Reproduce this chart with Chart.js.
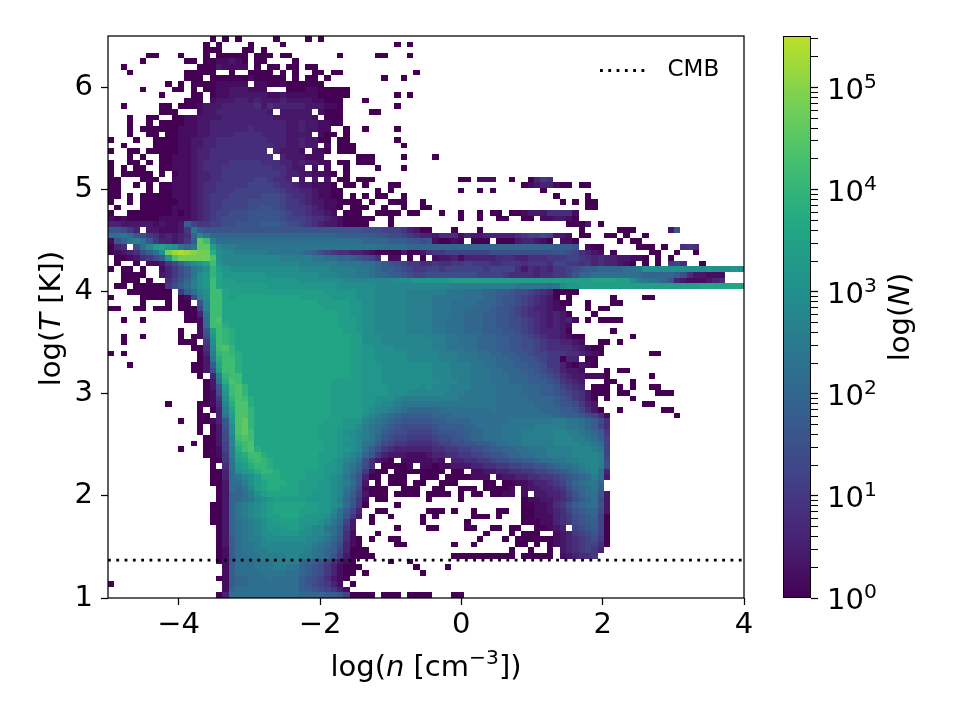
<!DOCTYPE html>
<html>
<head>
<meta charset="utf-8">
<title>Density-temperature histogram</title>
<script src="https://cdn.jsdelivr.net/npm/chart.js@4"></script>
<style>
  html, body { margin: 0; background: #fff; }
  canvas { position: absolute; left: 0; top: 0; }
</style>
</head>
<body>
<canvas id="phase" width="960" height="720"></canvas>
<canvas id="colorbar" width="960" height="720"></canvas>
<script>
// histogram counts, top row first, left column first
// one base 36 digit per bin: digit d means N = 10^(d / 5), '.' is an empty bin
var countRows = [
'.......... ......0.0. 0.....0... .0.0',
'.......... .....0.0.. ..0....0.. .......... .....0.0',
'.......... .....000.. .00.0',
'......00.. .0...0.000 00.000.00. ......0... ..00...0',
'.....0.... ..00.00112 10.00....0',
'..0....... ....000211 11.0.00.00 .00',
'...0...... ..00000..0 ..0000.0.0 ..00.00... ........0',
'.......... ..000.0000 00100000.0 .00.0..... ...0..0',
'.........0 .0.0000111 11.1100100 0000',
'.....0.... 00.0.00112 22111...00 01100000',
'........0. ...00.0112 2222211211 11100000.. .....0.0',
'.......... ..000.1222 3323222322 2211000... 0',
'..0.....00 .000122233 3334243333 3222110... .....0',
'........00 0...122333 333332.222 22.1000... .00',
'...0..00.. 0011222233 3333332222 221.000',
'...0..0.00 0011223333 3333333322 3221100',
'...0.00000 0111223333 3343333322 32211..0.. 0....0',
'...0..00.0 0111223333 4444333322 22.100.0',
'0...0..000 0112233444 4444433322 32200.00.. .....0',
'..0....000 0112233444 4444443322 322.1.000. ......0',
'0..00.0000 0112334444 44444.3222 1.110.000',
'...0.0..00 1112334444 444444.322 2111.....0 00....0... .0',
'0..00.0.00 1112344445 5555444332 32211.00.0 00',
'0.0.00..00 1112344455 5555554432 2.1.1..0.. ..0...0',
'0.00000.0. 0112334455 5555555433 221110.0',
'00...000.. 1112334455 555665443. 2.2.2.00.0 00........ .....00.11 1..0..0354',
'00..0.0.00 1112344555 5566665443 221110.00. 0...00.... .......... .....01233 100.00',
'00....0.00 1112344555 6666666544 3321100... ..0.0..... .....0..0. 0.......0.',
'00.0.00000 1112345556 6666777654 4321100.0. 0.00..0... .......... .......... 0....0',
'0..0.00000 0112345566 6677777655 4322110000 .0..000..0 .......... .......... .0.0.00',
'.0...00000 1112345566 6677887655 5432110.00 0..0..0..0 0......... .......... .....00',
'0..0000000 1012345667 7788888765 543321.000 ..0000.00. ..0..0..0. 00.0012224 4441',
'1010000011 1112345677 7788888766 6544321000 00..0..... .....0..0. .00..00.11 2210',
'3322222121 1296556677 8888999877 6543221000 0...0..... .......... .......... ..0002.0',
'88753.2211 125c988888 8888888888 8888888888 7776665320 0...0...0. .......... ....0..... 000.....28',
'bbcb875423 234aecaaaa aaaaaaaaaa aaaaaa9999 9988776543 3244413223 3333456676 221.00..00 .0..0',
'18acdb8533 2359nldbbb bbbbbbbbbb bbbbbbbbbb aaaa999887 810010.000 .000233210 .110...... 0.00',
'034.7behig fcacnnhedd cccccccccc cccccccccc ccbbbbbaaa aaaaaaaaaa aaaaaaaaaa 9998.100.. ...000.0.. 454',
'0123479bfo qrqpoojfee dddddccccc ba97654433 2100002002 4556666666 7777777777 88764321.0 .....00..0 ..0',
'.00124579g mooooomfee eeeeeeeddd ddccbbaa98 764.11.0.0 .122313333 3444334445 5566543433 22110.0.0',
'.0..0.1125 7adfgilgee eeeeeeeeee ddddddcccc bba9876554 4544556555 4455545554 6655453433 210.0.0.56 4..0',
'0.00.0..13 579cdfkhgf ffffffffff eeeeeddddc cba9987655 6656666665 6666424343 5567899aaa abbcffffff ffffgfffgf',
'..0000..23 579cfgkigg gggggfffff fffeeedddc cbaa998766 7777777766 6654444344 5568aabbbb bbbbaaaaa9 7422111...',
'..000.0..4 68adfglihh gggggggggg fffffffeee eeeeefffgg gggghhhhhh hhhhhhhhhh hhhhhhiiii hhfdccba83 2111234...',
'.00.000005 79bdfglihh hhhhhggggg ggggggffff ffeeeeeeee eeeedddddd ddddcccccb cfgghhhhhh hhhhhhhhhh hhhiiiiiii',
'...0000000 .59befllih hhhhhhhhhh hhhhgggggf ffeeeeeddd dddcccbbba a998776543 0000',
'0....00000 .017dfllih iiiiiiiiii hhhhhggggf ffeeeeeddd dcccccbbba a988765432 0.0......0 ....00',
'.....0...0 .00.8ellii iiiiiiiiii iiihhhhhgg ffeeeeeddd dcccbbbbaa a988765432 100..0...0 0',
'00..00.000 .0006ellii iiiiiiiiii iiiihhhhgg ffeeeeeddd dcccbbbaaa 9887654332 11...0.00.',
'.......... ..003cllii iiiiiiiiii iiiiiihhgg ffeeeeeddd dcccbbaaa9 9887654432 320...0',
'..0..0.... ..001blmii iiiiiiiiii iiiiiihhhg ffeeeeeddd dccbbbaaa9 9887765432 3231.0.000 0',
'.......... ....1bllji iiiiiiiiii iiiiiihhhg ffeeeeeddd dccbbbaaa9 9887765432 321',
'.......... .0..18hlkj iiiiiiiiii iiiiiiihhg ffeeeeeddd dccbbbaaa9 9988765433 320......0',
'..0..0.... .0.017glkj iiiiiiiiii iiiiiiiihh fffeeeeeee dddccbbbaa a998876543 32100..... ..0',
'..0....... .000.5flkj iiiiiiiiii iiiiiiiihh fffeeeeeee eddccbbbaa a998877654 43321..00. 0',
'.......... ...004elmk iiiiiiiiii iiiiiiiihh ggfffeeeee eddcccbbaa a998877654 44432100',
'0.0....... ....03dklk jiiiiiiiii iiiiiiiihh ggfffffeee eedddcccbb aa99887665 55443210.. .....00',
'.......... ....02cjll jiiiiiiiii iiiiiiiihh ggfffffeee eedddcccbb baa9988765 5033.00',
'...0...... ...0029ill jiiiiiiiii iiiiiiiihh gggfffffff feeedddccb baaa998875 5310210',
'.......... ...0027hll jiiiiiiiii iiiiiiiihh gggfffffff feeedddccc bbaaa99876 53221...0. 00',
'.......... ....0.3dkl liiiiiiiii iiiiiiiihh gggfffffff feeedddccc bbbaaa9987 643221110. .....0',
'.......... .....02cjm liiiiiiiii iiiiihhhhh gggfffffff ffeeeddccc bbbaaa9998 75432...00 ..0',
'.......... .....028hl mkiiiiiiii iiiiihhhhh ggggfffffe feeedddccc cbbbbaaa99 86543.000. 0.0..00',
'.......... .....017gl mkiiiiiiii iiiiihhhhh ggggfffeee eeedddcccc cbbbbaaa99 876542000. 00....000',
'.......... .....015fk mljiiiiiii iiiiihhhhh ggfffedddd dddddccccc cbbbbbaaaa 9875420.0. ..0',
'.........0 ....0014ej mmjiiiiiii iiiiihhhhh ggfeedcccc cccccccccc cbbbbbbaaa 9887532... ....00',
'.......... ....0.03di mmkiiiiiii iiiiihhhhh gfeedcbaaa aabbbbbbbb cbbbbbbbaa a9986420.. 0......00',
'.......... ....00.3ch mmkiiiiiii iiiiihhhhh fedcba9999 9aaabbbbbb bbbbbbbbbb aa9987641. .........0',
'.......... .0..00138g mnkiiiiiii iiiihhhggg edcba98888 899aaaabbb bbbccccccc ddccba974.',
'.......... ....0.028f mnkiiiiiii iiihhhhggf dcba987777 789999aabb bbcccccddd ddccba964.',
'.......... ....0.027f mnliiiiiii iiihhhgffe dcb9877666 6788899aab bbcccddddd eeddcba95.',
'.......... .....0027e lmliiiiiii iiihhhggfe dca8766555 5677889aab bbcccddddd eeeddcb96.',
'.......... ...0.0026e klmiiiiiii iiiihhgffe cb97655444 4566778899 abbccddddd eeeeddcb6.',
'.......... .0...0016d jlmjiiiiii iiiihhggfe b975433333 3445566778 99aabbcccd dddeeedc6.',
'.......... .....0015d ijlljiiiii iiihhhgfed a853222111 2334455667 889aabbccd dddeeeed6.',
'.......... ......005c hiklkjiiii iiihhgfedb 74210.1111 121.334455 6778899abb ccddeeed7.',
'.......... ......0.4c ghjkkjiiii iiihggfdca 74.00001.1 1011222334 4556677889 abbcdeed7.',
'.......... ......003b fghjkkjiii ihhhggfdb9 5100.00000 000.00.112 2334455667 89abcdeb3.',
'.......... ......003b cefhjjjiii ihhhgfeca8 300.000..0 00.0000111 .122334455 6789abdb2.',
'.......... ......002b bdfhijjjii hhhggfedb8 2.0.000.00 ..000....0 0.00112334 568abcca..',
'.......... .......02b acehijjiii hhhggfeca7 1000..000. .00..000.0 0001.12233 4579abc9..',
'.......... .......02a abdfhiiiii hhgggfeb96 2000.0000. 0000.0.00. 0011.1.223 3468abb82.',
'.......... .......02a abcefghhhh hggggfda85 1.00...... 0....0.... .....01122 34579ab72.',
'.......... ......002a cdefghiiii ihhggfeb85 0....0.... .......... .....00112 4579abb82.',
'.......... ......002a cdefghiiii hhhggeb963 ..00...... 000.0..0.. .00..00112 34689aa72.',
'.......... ......002a cdefghhiii hgggfdb852 .0..0....0 .0.....000 .0...00111 345789a60.',
'.......... ......002a bcdefghhhh gggfeca62. .0.......0 ......0... .....00011 345789960.',
'.......... .......02a bcdefggghh gfeecb952. .....0.... 00....00.. 00.00..001 23.678960.',
'.......... .......02a bcdeffgggg ffeedb941. ..0....... .........0 ...0.000.. 123567860.',
'.......... .......029 bcddefffff feedca8410 .0..00.... ........0. ..0.000000 123456750.',
'.......... .......029 bccdeeeeee eedcb97310 .....00... ....0..0.. ....00.0.0 123456640.',
'.......... .......019 bccddeeeee edcba96300 0......... .......... ...0..0..0 .2345653',
'.......... .......019 bbccddddee ddcba85200 00........ ....000000 0000.00000 .123445',
'.......... .......019 bbbcccdddd aa9864210. ....0..0',
'.......... ........19 bbbcccddcc a987531000 ........0. ...0',
'.......... ........19 bbbbccccbb a98753100. 0........0',
'.......... .......019 aabbbcbbbb 98764210',
'0......... ........19 aabbbbbbbb 9876531.0',
'.......... ........1a bbbbbbbbbb 99876531',
'.......... .......03b bbbbbbbbbb aaaa998600 00.000.000 0...00'
];

var logNRange = [-5, 4];
var logTRange = [1, 6.5];
var logNTicks = [-4, -2, 0, 2, 4];
var logTTicks = [1, 2, 3, 4, 5, 6];
var cmbLogT = 1.37;
var countMax = 3.2e5;
var countMajorTicks = [1, 10, 100, 1000, 10000, 100000];
var countMinorTicks = [2, 3, 4, 5, 6, 7, 8, 9,
  20, 30, 40, 50, 60, 70, 80, 90,
  200, 300, 400, 500, 600, 700, 800, 900,
  2000, 3000, 4000, 5000, 6000, 7000, 8000, 9000,
  20000, 30000, 40000, 50000, 60000, 70000, 80000, 90000,
  200000, 300000];

// viridis, stopped short of the yellow end
var paletteStops = [
  [68, 1, 84], [72, 36, 117], [65, 68, 135], [53, 95, 141], [42, 120, 142],
  [33, 145, 140], [34, 168, 132], [68, 191, 112], [122, 209, 81], [189, 223, 38]
];

var FONT = '"DejaVu Sans", sans-serif';
var dots = [2.8, 5.5];

function paletteColor(t) {
  var p = Math.min(t, 1) * (paletteStops.length - 1);
  var i = Math.min(Math.floor(p), paletteStops.length - 2);
  var f = p - i;
  var a = paletteStops[i], b = paletteStops[i + 1];
  return 'rgb(' + [0, 1, 2].map(function (k) {
    return Math.round(a[k] + (b[k] - a[k]) * f);
  }).join(',') + ')';
}

// turn the rows into one point per filled bin
var binW = (logNRange[1] - logNRange[0]) / 100;
var binH = (logTRange[1] - logTRange[0]) / 100;
var cells = [];
countRows.forEach(function (row, r) {
  var digits = row.replace(/ /g, '');
  for (var c = 0; c < digits.length; c++) {
    if (digits[c] === '.') continue;
    cells.push({
      x: logNRange[0] + (c + 0.5) * binW,
      y: logTRange[1] - (r + 0.5) * binH,
      n: Math.pow(10, parseInt(digits[c], 36) / 5)
    });
  }
});

var logMax = Math.log10(countMax);

// paints the bins under the CMB line, then the axes frame on top
var heatPlugin = {
  id: 'heat',
  beforeDatasetsDraw: function (chart) {
    var ctx = chart.ctx, xs = chart.scales.x, ys = chart.scales.y;
    ctx.save();
    cells.forEach(function (p) {
      var x0 = Math.round(xs.getPixelForValue(p.x - binW / 2));
      var x1 = Math.round(xs.getPixelForValue(p.x + binW / 2));
      var y0 = Math.round(ys.getPixelForValue(p.y + binH / 2));
      var y1 = Math.round(ys.getPixelForValue(p.y - binH / 2));
      ctx.fillStyle = paletteColor(Math.log10(p.n) / logMax);
      ctx.fillRect(x0, y0, x1 - x0, y1 - y0);
    });
    ctx.restore();
  },
  afterDatasetsDraw: function (chart) {
    var a = chart.chartArea, ctx = chart.ctx;
    ctx.save();
    ctx.strokeStyle = '#000';
    ctx.lineWidth = 1.25;
    ctx.strokeRect(a.left, a.top, a.right - a.left, a.bottom - a.top);
    ctx.restore();
  },
  afterLayout: function (chart) {
    // legend sits inside the axes, upper right
    var lg = chart.legend;
    lg.left = 590; lg.right = 735; lg.top = 49; lg.bottom = 88;
  }
};

// axis titles with italic symbols and a raised exponent
function drawRuns(ctx, runs, cx, cy, rotate, align) {
  ctx.save();
  ctx.translate(cx, cy);
  if (rotate) ctx.rotate(-Math.PI / 2);
  ctx.textBaseline = 'alphabetic';
  ctx.textAlign = 'left';
  ctx.fillStyle = '#000';
  var total = 0;
  runs.forEach(function (run) {
    ctx.font = run.font;
    total += ctx.measureText(run.text).width;
  });
  var x = align === 'left' ? 0 : -total / 2;
  runs.forEach(function (run) {
    ctx.font = run.font;
    ctx.fillText(run.text, x, run.rise ? -run.rise : 0);
    x += ctx.measureText(run.text).width;
  });
  ctx.restore();
}

var upright = '29px ' + FONT;
var slanted = 'oblique 29px ' + FONT;
var small = '20.3px ' + FONT;

var phaseTitles = {
  id: 'phaseTitles',
  afterDraw: function (chart) {
    drawRuns(chart.ctx, [
      { text: 'log(', font: upright }, { text: 'n', font: slanted },
      { text: ' [cm', font: upright }, { text: '\u22123', font: small, rise: 11.7 },
      { text: '])', font: upright }
    ], 426, 676, false);
    drawRuns(chart.ctx, [
      { text: 'log(', font: upright }, { text: 'T', font: slanted },
      { text: ' [K])', font: upright }
    ], 60, 318.5, true);
  }
};

new Chart(document.getElementById('phase').getContext('2d'), {
  type: 'scatter',
  plugins: [heatPlugin, phaseTitles],
  data: {
    datasets: [
      { label: 'bins', data: cells, pointRadius: 0, pointHoverRadius: 0 },
      {
        label: 'CMB',
        data: [{ x: logNRange[0], y: cmbLogT }, { x: logNRange[1], y: cmbLogT }],
        showLine: true,
        pointRadius: 0,
        borderColor: '#000',
        backgroundColor: '#000',
        borderWidth: 2.8,
        borderDash: dots
      }
    ]
  },
  options: {
    responsive: false,
    animation: false,
    devicePixelRatio: 1,
    layout: { padding: { top: 36, right: 216, left: 0, bottom: 0 } },
    plugins: {
      tooltip: { enabled: false },
      legend: {
        position: 'chartArea',
        align: 'start',
        labels: {
          usePointStyle: true,
          pointStyle: 'line',
          pointStyleWidth: 56,
          color: '#000',
          boxHeight: 20,
          padding: 10,
          font: { family: 'DejaVu Sans', size: 23 },
          // six dots, the tail of the sample stays blank
          generateLabels: function () {
            return [{
              text: 'CMB', fontColor: '#000', strokeStyle: '#000', fillStyle: '#000',
              lineWidth: 2.8, pointStyle: 'line', datasetIndex: 1,
              lineDash: dots.concat(dots, dots, dots, dots, [2.8, 40])
            }];
          }
        }
      }
    },
    scales: {
      x: {
        type: 'linear',
        min: logNRange[0],
        max: logNRange[1],
        afterFit: function (scale) { scale.height = 122; },
        afterBuildTicks: function (scale) {
          scale.ticks = logNTicks.map(function (v) { return { value: v }; });
        },
        grid: { display: true, drawOnChartArea: false, tickLength: 7, tickColor: '#000', tickWidth: 1.25 },
        border: { display: false },
        ticks: {
          color: '#000', padding: 3, maxRotation: 0, autoSkip: false,
          font: { family: 'DejaVu Sans', size: 29 },
          callback: function (v) { return String(v).replace('-', '\u2212'); }
        }
      },
      y: {
        type: 'linear',
        min: logTRange[0],
        max: logTRange[1],
        afterFit: function (scale) { scale.width = 108; },
        afterBuildTicks: function (scale) {
          scale.ticks = logTTicks.map(function (v) { return { value: v }; });
        },
        grid: { display: true, drawOnChartArea: false, tickLength: 7, tickColor: '#000', tickWidth: 1.25 },
        border: { display: false },
        ticks: {
          color: '#000', padding: 8, autoSkip: false,
          font: { family: 'DejaVu Sans', size: 29 }
        }
      }
    }
  }
});

// colour scale: a single floating bar on a log axis
function barGradient(context) {
  var chart = context.chart, a = chart.chartArea;
  if (!a) return '#000';
  var g = chart.ctx.createLinearGradient(0, a.bottom, 0, a.top);
  for (var i = 0; i <= 40; i++) g.addColorStop(i / 40, paletteColor(i / 40));
  return g;
}

var barLabels = {
  id: 'barLabels',
  afterDraw: function (chart) {
    var ys = chart.scales.y;
    countMajorTicks.forEach(function (v) {
      drawRuns(chart.ctx, [
        { text: '10', font: upright },
        { text: String(Math.round(Math.log10(v))), font: small, rise: 11 }
      ], 827, ys.getPixelForValue(v) + 11, false, 'left');
    });
    drawRuns(chart.ctx, [
      { text: 'log(', font: upright }, { text: 'N', font: slanted }, { text: ')', font: upright }
    ], 909, 317, true);
  }
};

new Chart(document.getElementById('colorbar').getContext('2d'), {
  type: 'bar',
  plugins: [barLabels],
  data: {
    labels: ['N'],
    datasets: [{
      data: [[1, countMax]],
      backgroundColor: barGradient,
      borderColor: '#000',
      borderWidth: 1.25,
      borderSkipped: false,
      barPercentage: 1,
      categoryPercentage: 1
    }]
  },
  options: {
    responsive: false,
    animation: false,
    devicePixelRatio: 1,
    layout: { padding: { top: 36, left: 783, right: 0, bottom: 122 } },
    plugins: { legend: { display: false }, tooltip: { enabled: false } },
    scales: {
      x: { display: false },
      y: {
        type: 'logarithmic',
        position: 'right',
        min: 1,
        max: countMax,
        afterFit: function (scale) { scale.width = 149; },
        afterBuildTicks: function (scale) {
          scale.ticks = countMajorTicks.concat(countMinorTicks).sort(function (a, b) { return a - b; })
            .map(function (v) { return { value: v }; });
        },
        grid: {
          display: true, drawOnChartArea: false, tickLength: 7, tickColor: '#000',
          tickWidth: function (ctx) { return countMajorTicks.indexOf(ctx.tick.value) >= 0 ? 1.25 : 1; }
        },
        border: { display: false },
        ticks: { display: false }
      }
    }
  }
});
</script>
</body>
</html>
